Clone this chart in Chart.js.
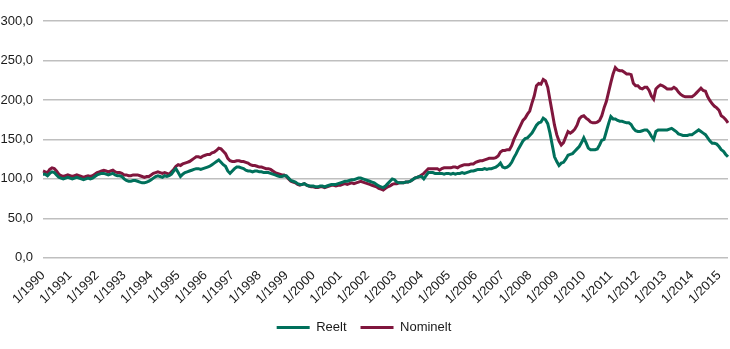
<!DOCTYPE html>
<html>
<head>
<meta charset="utf-8">
<script src="https://cdn.jsdelivr.net/npm/chart.js@4"></script>
<style>
  html, body { margin: 0; padding: 0; background: #fff; }
</style>
</head>
<body>
<canvas id="chart" width="730" height="349"></canvas>
<script>
// Monthly index values from 1/1990 to 5/2015
const startYear = 1990;

const nominelt = [
  110, 109, 108, 112, 114, 113, 110, 106, 104, 103, 104, 105, // 1990
  104, 103, 104, 105, 104, 103, 102, 103, 104, 103, 104, 106, // 1991
  108, 109, 110, 111, 110, 109, 110, 111, 109, 108, 108, 107, // 1992
  105, 105, 104, 104, 105, 105, 105, 104, 103, 102, 103, 103, // 1993
  105, 107, 108, 109, 108, 107, 108, 107, 106, 109, 112, 116, // 1994
  118, 117, 119, 120, 121, 122, 124, 126, 128, 128, 127, 129, // 1995
  130, 131, 131, 133, 134, 136, 139, 138, 135, 132, 126, 123, // 1996
  122, 122, 123, 123, 122, 122, 121, 120, 118, 117, 117, 116, // 1997
  115, 115, 114, 113, 113, 112, 110, 108, 107, 106, 105, 105, // 1998
  103, 100, 97, 96, 95, 93, 92, 93, 94, 92, 91, 90, // 1999
  90, 89, 89, 90, 90, 89, 90, 91, 92, 92, 91, 92, // 2000
  92, 93, 94, 93, 94, 95, 94, 95, 96, 97, 96, 95, // 2001
  94, 93, 92, 91, 90, 88, 87, 86, 88, 90, 91, 93, // 2002
  94, 94, 95, 95, 95, 96, 96, 97, 99, 101, 102, 103, // 2003
  105, 107, 110, 113, 113, 113, 113, 113, 111, 113, 114, 114, // 2004
  114, 114, 115, 115, 114, 116, 117, 118, 118, 118, 119, 119, // 2005
  121, 122, 123, 123, 124, 125, 126, 126, 126, 127, 129, 134, // 2006
  136, 136, 137, 137, 142, 150, 156, 162, 168, 174, 177, 182, // 2007
  186, 196, 205, 218, 221, 220, 226, 224, 216, 200, 184, 168, // 2008
  156, 148, 143, 146, 153, 160, 158, 160, 163, 168, 176, 179, // 2009
  180, 177, 175, 172, 171, 171, 172, 174, 180, 190, 198, 210, // 2010
  222, 233, 241, 238, 237, 237, 235, 233, 233, 232, 221, 218, // 2011
  218, 215, 214, 216, 216, 212, 205, 201, 214, 217, 219, 218, // 2012
  216, 214, 214, 214, 216, 214, 210, 207, 205, 204, 204, 204, // 2013
  204, 206, 209, 212, 215, 212, 211, 204, 199, 195, 192, 190, // 2014
  187, 180, 178, 175, 171, // 2015
];

const reelt = [
  106, 106, 104, 107, 109, 108, 105, 102, 101, 100, 101, 102, // 1990
  101, 100, 101, 102, 101, 100, 99, 100, 101, 100, 101, 103, // 1991
  105, 106, 107, 107, 106, 105, 106, 107, 105, 104, 104, 103, // 1992
  100, 98, 97, 97, 98, 98, 97, 96, 95, 95, 96, 97, // 1993
  99, 101, 103, 104, 103, 102, 104, 103, 104, 106, 110, 113, // 1994
  108, 103, 106, 108, 109, 110, 111, 112, 113, 113, 112, 113, // 1995
  114, 115, 116, 118, 120, 122, 124, 121, 118, 116, 110, 107, // 1996
  110, 113, 115, 115, 114, 113, 111, 110, 110, 109, 110, 110, // 1997
  109, 109, 108, 108, 108, 107, 106, 105, 104, 103, 103, 104, // 1998
  104, 101, 98, 97, 96, 94, 93, 93, 94, 92, 91, 91, // 1999
  91, 90, 90, 91, 91, 90, 91, 92, 93, 93, 93, 94, // 2000
  95, 96, 97, 97, 98, 99, 99, 100, 101, 101, 100, 99, // 2001
  98, 97, 96, 95, 93, 91, 90, 89, 91, 94, 97, 100, // 2002
  99, 96, 95, 95, 95, 96, 96, 97, 99, 101, 102, 103, // 2003
  103, 100, 104, 108, 108, 108, 107, 107, 107, 107, 106, 107, // 2004
  107, 106, 107, 106, 107, 107, 108, 107, 108, 109, 110, 110, // 2005
  111, 112, 112, 112, 113, 112, 113, 113, 114, 115, 117, 120, // 2006
  115, 114, 115, 117, 121, 127, 132, 138, 143, 148, 151, 152, // 2007
  155, 158, 163, 168, 171, 172, 177, 175, 170, 158, 143, 128, // 2008
  122, 117, 120, 121, 125, 130, 131, 132, 135, 138, 141, 146, // 2009
  152, 146, 139, 137, 137, 137, 138, 143, 149, 150, 160, 170, // 2010
  179, 176, 176, 174, 173, 173, 172, 171, 171, 169, 164, 161, // 2011
  160, 160, 161, 162, 162, 159, 154, 150, 160, 162, 162, 162, // 2012
  162, 162, 163, 164, 162, 160, 157, 156, 155, 155, 155, 156, // 2013
  156, 158, 160, 162, 160, 158, 156, 152, 148, 145, 145, 144, // 2014
  141, 137, 135, 131, 128, // 2015
];

// Category labels "month/year"
const labels = nominelt.map((v, i) => `${(i % 12) + 1}/${startYear + Math.floor(i / 12)}`);

const yMin = 0;
const yMax = 300;
const yStep = 50;

const tealColor = '#00705b';
const maroonColor = '#80163d';
const textColor = '#1a1a1a';

Chart.defaults.font.family = '"Liberation Sans", Arial, sans-serif';
Chart.defaults.font.size = 13;
Chart.defaults.color = textColor;

const ctx = document.getElementById('chart');
new Chart(ctx, {
  type: 'line',
  data: {
    labels,
    datasets: [
      {
        label: 'Reelt',
        data: reelt,
        borderColor: tealColor,
        backgroundColor: tealColor,
        borderWidth: 3,
        tension: 0,
        pointRadius: 0,
      },
      {
        label: 'Nominelt',
        data: nominelt,
        borderColor: maroonColor,
        backgroundColor: maroonColor,
        borderWidth: 3,
        tension: 0,
        pointRadius: 0,
      },
    ],
  },
  options: {
    responsive: false,
    animation: false,
    layout: {
      padding: { top: 21, right: 2, bottom: 5, left: 0 },
    },
    scales: {
      x: {
        grid: { display: false, drawTicks: false },
        border: { display: false },
        ticks: {
          autoSkip: false,
          minRotation: 45,
          maxRotation: 45,
          padding: 10,
          callback: (value, index) => (index % 12 === 0 ? labels[index] : ''),
        },
        afterFit: (scale) => {
          scale.paddingLeft = 0;
          scale.paddingRight = 0;
          scale.height -= 10;
        },
      },
      y: {
        min: yMin,
        max: yMax,
        grid: {
          color: '#bfbfbf',
          lineWidth: 1.5,
          drawTicks: false,
        },
        border: { display: false },
        ticks: {
          stepSize: yStep,
          padding: 10,
          callback: (value) => value.toFixed(1).replace('.', ','),
        },
        afterFit: (scale) => {
          scale.width = 43;
        },
      },
    },
    plugins: {
      legend: {
        position: 'bottom',
        labels: {
          usePointStyle: true,
          pointStyle: 'line',
          pointStyleWidth: 33,
          padding: 14,
          color: textColor,
        },
      },
      tooltip: { enabled: false },
    },
  },
});
</script>
</body>
</html>
